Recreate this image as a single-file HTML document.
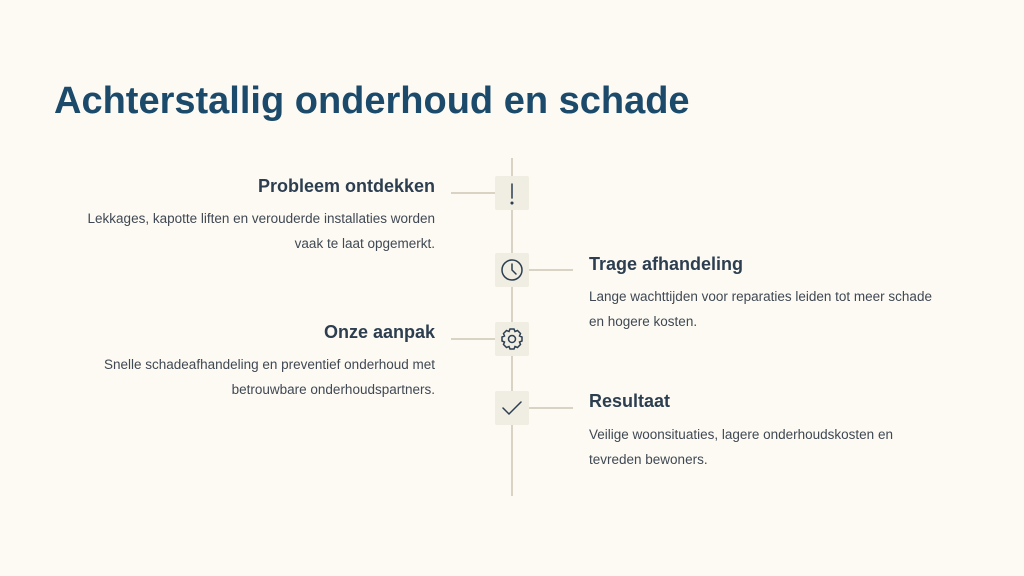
<!DOCTYPE html>
<html><head><meta charset="utf-8"><style>
body{margin:0;width:1024px;height:576px;background:#fdfaf3;position:relative;overflow:hidden;font-family:"Liberation Sans",sans-serif}
.t{position:absolute;left:54px;top:80px;font-size:38px;font-weight:bold;color:#1b4a6b;letter-spacing:0}
.h{position:absolute;font-size:18px;font-weight:bold;color:#2c3e50;white-space:nowrap}
.p{position:absolute;font-size:13.5px;line-height:25px;color:#3f4853}
.r{text-align:right}
.line{position:absolute;background:#d9d3c6}
.box{position:absolute;left:495px;width:34px;height:34px;background:#f0ede3;border-radius:2px}
svg{position:absolute;left:0;top:0}
</style></head><body>
<div class="t">Achterstallig onderhoud en schade</div>
<div class="line" style="left:511px;top:158px;width:2px;height:338px"></div>
<div class="line" style="left:451px;top:192px;width:44px;height:2px"></div>
<div class="line" style="left:529px;top:269px;width:44px;height:2px"></div>
<div class="line" style="left:451px;top:338px;width:44px;height:2px"></div>
<div class="line" style="left:529px;top:407px;width:44px;height:2px"></div>
<div class="box" style="top:176px"></div>
<div class="box" style="top:253px"></div>
<div class="box" style="top:322px"></div>
<div class="box" style="top:391px"></div>
<svg width="1024" height="576" fill="none" stroke="#2c3e50" stroke-width="1.5" stroke-linecap="round">
<line x1="512" y1="184" x2="512" y2="198"/><circle cx="512" cy="203" r="0.8" fill="#2c3e50"/>
<circle cx="512" cy="270" r="10"/><polyline points="512,264 512,270 516,274"/>
<circle cx="512" cy="339" r="3.5"/>
<path d="M510 329h4l1 2.5 2.5-1 3 3-1 2.5 2.5 1v4l-2.5 1 1 2.5-3 3-2.5-1-1 2.5h-4l-1-2.5-2.5 1-3-3 1-2.5-2.5-1v-4l2.5-1-1-2.5 3-3 2.5 1z"/>
<polyline points="503,408 509,414 521,402"/>
</svg>
<div class="h" style="right:589px;top:176px">Probleem ontdekken</div>
<div class="p r" style="left:58px;width:377px;top:206px">Lekkages, kapotte liften en verouderde installaties worden vaak te laat opgemerkt.</div>
<div class="h" style="left:589px;top:254px">Trage afhandeling</div>
<div class="p" style="left:589px;width:355px;top:284px">Lange wachttijden voor reparaties leiden tot meer schade en hogere kosten.</div>
<div class="h" style="right:589px;top:322px">Onze aanpak</div>
<div class="p r" style="left:58px;width:377px;top:352px">Snelle schadeafhandeling en preventief onderhoud met betrouwbare onderhoudspartners.</div>
<div class="h" style="left:589px;top:391px">Resultaat</div>
<div class="p" style="left:589px;width:340px;top:422px">Veilige woonsituaties, lagere onderhoudskosten en tevreden bewoners.</div>
</body></html>
